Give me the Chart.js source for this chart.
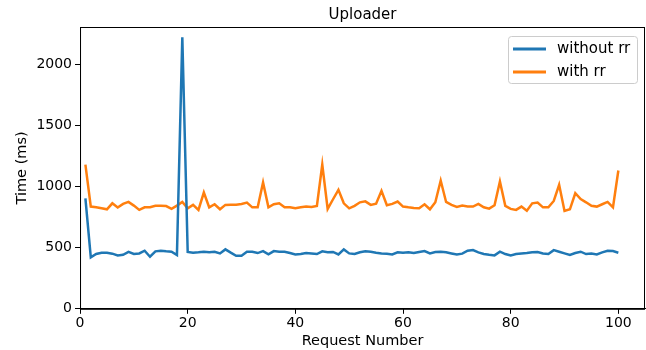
<!DOCTYPE html>
<html lang="en">
<head>
  <meta charset="UTF-8" />
  <title>Uploader</title>
  <script src="https://cdn.jsdelivr.net/npm/chart.js"></script>
  <style>
    html, body { margin: 0; padding: 0; background: #fff; }
  </style>
</head>
<body>
<canvas id="grafico" width="646" height="350"></canvas>

<script>
  // request numbers 1..100
  const requests = [
    1, 2, 3, 4, 5, 6, 7, 8, 9, 10, 11, 12, 13, 14, 15, 16, 17, 18, 19, 20,
    21, 22, 23, 24, 25, 26, 27, 28, 29, 30, 31, 32, 33, 34, 35, 36, 37, 38, 39, 40,
    41, 42, 43, 44, 45, 46, 47, 48, 49, 50, 51, 52, 53, 54, 55, 56, 57, 58, 59, 60,
    61, 62, 63, 64, 65, 66, 67, 68, 69, 70, 71, 72, 73, 74, 75, 76, 77, 78, 79, 80,
    81, 82, 83, 84, 85, 86, 87, 88, 89, 90, 91, 92, 93, 94, 95, 96, 97, 98, 99, 100
  ];

  const semRR = [
    904, 421, 448, 459, 459, 451, 437, 442, 465, 448, 453, 475, 426, 470, 475, 470, 467, 440, 2220, 465,
    459, 462, 467, 462, 467, 453, 486, 459, 434, 434, 467, 467, 456, 472, 445, 472, 467, 467, 456, 445,
    448, 456, 453, 448, 470, 462, 465, 445, 486, 453, 448, 462, 470, 467, 459, 453, 451, 445, 462, 459,
    462, 456, 465, 472, 453, 465, 467, 462, 453, 445, 451, 475, 480, 462, 448, 442, 437, 467, 448, 437,
    448, 453, 456, 462, 465, 453, 448, 480, 467, 453, 440, 456, 467, 448, 453, 445, 462, 475, 472, 459
  ];

  const comRR = [
    1180, 836, 830, 822, 814, 863, 828, 858, 874, 844, 809, 830, 830, 842, 842, 840, 817, 844, 874, 822,
    850, 809, 951, 830, 855, 814, 850, 852, 852, 858, 869, 830, 830, 1033, 830, 855, 863, 830, 830, 822,
    830, 836, 833, 842, 1180, 817, 896, 973, 863, 822, 842, 871, 879, 850, 860, 965, 847, 858, 877, 836,
    830, 825, 822, 855, 814, 871, 1049, 874, 850, 833, 844, 836, 836, 858, 830, 819, 847, 1041, 842, 817,
    809, 836, 803, 863, 869, 830, 830, 882, 1014, 800, 814, 945, 897, 871, 842, 836, 855, 874, 830, 1131
  ];

  const xTicks = [0, 20, 40, 60, 80, 100];
  const yTicks = [0, 500, 1000, 1500, 2000];
  const nomes = ['without rr', 'with rr'];
  const cores = ['#1f77b4', '#ff7f0e'];
  const titulo = 'Uploader';

  const fonte = 'DejaVu Sans';

  // moldura completa, titulo centrado no eixo e legenda dentro do grafico (estilo matplotlib)
  const moldura = {
    id: 'moldura',
    afterDraw(chart) {
      const { ctx, chartArea: a } = chart;
      ctx.save();
      ctx.strokeStyle = '#000';
      ctx.lineWidth = 1;
      ctx.strokeRect(a.left + 0.5, a.top + 0.5, a.right - a.left - 1, a.bottom - a.top);

      ctx.fillStyle = '#000';
      ctx.font = '15px ' + fonte;
      ctx.textAlign = 'center';
      ctx.textBaseline = 'alphabetic';
      ctx.fillText(titulo, (a.left + a.right) / 2, a.top - 8);

      // legenda
      const bx = a.right - 137, by = a.top + 9, bw = 129, bh = 47;
      ctx.fillStyle = 'rgba(255,255,255,0.8)';
      ctx.strokeStyle = '#cccccc';
      ctx.lineWidth = 1;
      ctx.beginPath();
      ctx.roundRect(bx + 0.5, by + 0.5, bw, bh, 3);
      ctx.fill();
      ctx.stroke();
      ctx.font = '15px ' + fonte;
      ctx.textAlign = 'left';
      ctx.textBaseline = 'middle';
      nomes.forEach((n, i) => {
        const y = by + 13 + i * 23;
        ctx.strokeStyle = cores[i];
        ctx.lineWidth = 3;
        ctx.beginPath();
        ctx.moveTo(bx + 5, y);
        ctx.lineTo(bx + 38, y);
        ctx.stroke();
        ctx.fillStyle = '#000';
        ctx.fillText(n, bx + 49, y);
      });
      ctx.restore();
    }
  };

  new Chart(document.getElementById('grafico'), {
    type: 'line',
    data: {
      labels: requests,
      datasets: [
        { label: nomes[0], data: requests.map((r, i) => ({ x: r, y: semRR[i] })), borderColor: cores[0], borderWidth: 2.5 },
        { label: nomes[1], data: requests.map((r, i) => ({ x: r, y: comRR[i] })), borderColor: cores[1], borderWidth: 2.5 }
      ]
    },
    options: {
      responsive: false,
      animation: false,
      devicePixelRatio: 1,
      elements: { point: { radius: 0 }, line: { tension: 0 } },
      layout: { padding: { top: 27, right: 1, left: 14, bottom: 0 } },
      plugins: {
        legend: { display: false },
        tooltip: { enabled: false },
        title: { display: false }
      },
      scales: {
        x: {
          type: 'linear', min: 0, max: 104.95,
          afterBuildTicks: s => { s.ticks = xTicks.map(v => ({ value: v })); },
          ticks: { color: '#000', font: { family: fonte, size: 14 }, maxRotation: 0, padding: 1, callback: v => String(v) },
          grid: { display: true, drawOnChartArea: false, color: '#000', tickLength: 5 },
          border: { display: true, color: '#000' },
          title: { display: true, text: 'Request Number', color: '#000', font: { family: fonte, size: 14.5 }, padding: { top: 0, bottom: 0 } }
        },
        y: {
          type: 'linear', min: 0, max: 2305,
          afterBuildTicks: s => { s.ticks = yTicks.map(v => ({ value: v })); },
          ticks: { color: '#000', font: { family: fonte, size: 14 }, padding: 3, callback: v => String(v) },
          grid: { display: true, drawOnChartArea: false, color: '#000', tickLength: 5 },
          border: { display: true, color: '#000' },
          title: { display: true, text: 'Time (ms)', color: '#000', font: { family: fonte, size: 14.5 }, padding: { top: 0, bottom: 2 } }
        }
      }
    },
    plugins: [moldura]
  });
</script>
</body>
</html>
